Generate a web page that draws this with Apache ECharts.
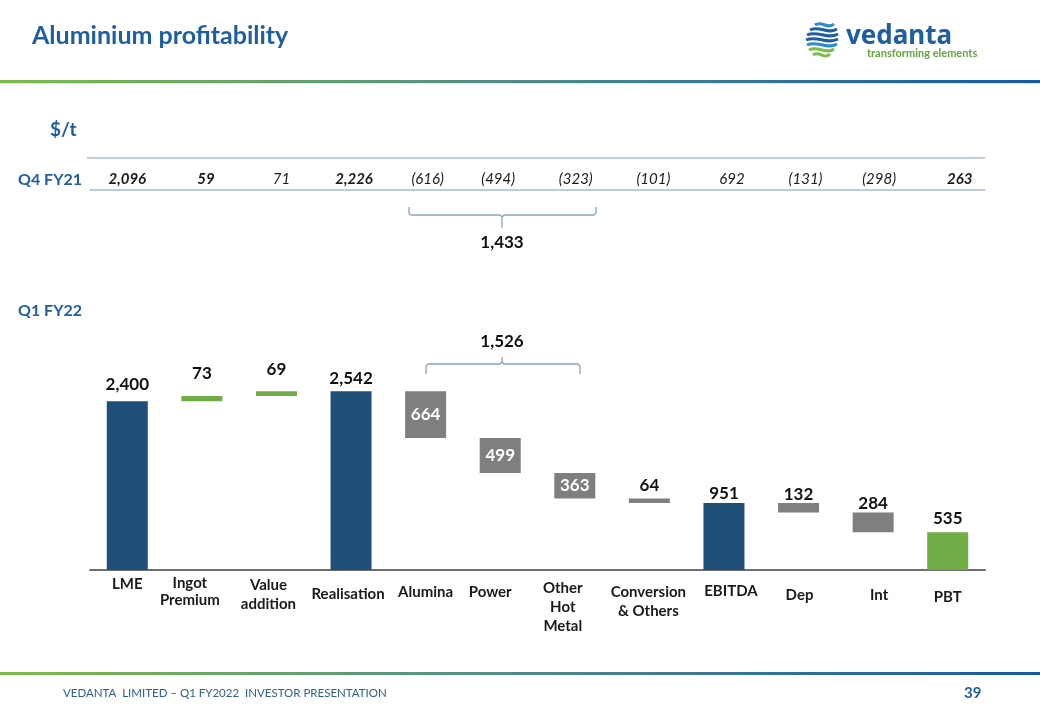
<!DOCTYPE html>
<html>
<head>
<meta charset="utf-8">
<script src="https://cdn.jsdelivr.net/npm/echarts@6/dist/echarts.min.js"></script>
<style>
html,body{margin:0;padding:0;background:#fff;}
#chart{width:1040px;height:720px;}
</style>
</head>
<body>
<div id="chart"></div>
<script>
// ---- data ----
const categories = ['LME','Ingot\nPremium','Value\naddition','Realisation','Alumina','Power','Other\nHot\nMetal','Conversion\n& Others','EBITDA','Dep','Int','PBT'];
const q1Values = [2400, 73, 69, 2542, 664, 499, 363, 64, 951, 132, 284, 535];
const barKind = ['total','up','up','total','down','down','down','down','total','down','down','result'];
const q4Labels = ['2,096','59','71','2,226','(616)','(494)','(323)','(101)','692','(131)','(298)','263'];
const q4Bold = [true, true, false, true, false, false, false, false, false, false, false, true];
const q4CostSum = '1,433';
const q1CostSum = '1,526';

// ---- styles ----
const NAVY = '#1F4E79', GREEN = '#70AD47', GRAY = '#7F7F7F', BLUE = '#1F5FA0';
const FONT = 'Lato, "Open Sans", sans-serif';
const labelGap = [8, 14, 13, 4, 0, 0, 0, 5, 1, 0, 0, 5];
const catPad = [0, 0, 1, 10, 8, 8, 4, 8, 7, 11, 11, 13];
const catLH = [18, 17, 19, 18, 18, 18, 19, 19, 18, 18, 18, 18];
const catShift = [0, -12, -8, -3, 0, -10, -12, -1, 7, 1, 6, 0];
const q4Shift = [0, 4, 5, 3, 2, -2, 1, 4, 8, 7, 6, 12];
const hpad = dx => dx >= 0 ? [0, 2 * dx] : [-2 * dx, 0]; // [right, left]

// ---- waterfall computation ----
const baseData = [], barData = [];
let running = 0;
q1Values.forEach((v, i) => {
  const k = barKind[i];
  let base;
  if (k === 'total' || k === 'result') { base = 0; running = v; }
  else if (k === 'up') { base = running; running += v; }
  else { running -= v; base = running; }
  baseData.push(base);
  const color = k === 'total' ? NAVY : (k === 'down' ? GRAY : GREEN);
  const inside = (k === 'down' && v > 300);
  barData.push({
    value: v,
    itemStyle: { color: color },
    label: inside ? { position: 'inside', color: '#fff' } : { position: 'top', distance: labelGap[i], color: '#111' }
  });
});

const fmt = n => n.toLocaleString('en-US');

const chart = echarts.init(document.getElementById('chart'), null, { renderer: 'canvas' });

const grad = () => new echarts.graphic.LinearGradient(0, 0, 1, 0, [
  { offset: 0, color: '#7DBB4A' }, { offset: 0.5, color: '#4E8C8A' }, { offset: 1, color: '#1659A3' }]);

function wave(x1, y, x2, color) {
  const w = x2 - x1;
  return { type: 'bezierCurve',
    shape: { x1: x1, y1: y, x2: x2, y2: y - 1, cpx1: x1 + w * 0.35, cpy1: y - 5, cpx2: x1 + w * 0.65, cpy2: y + 5 },
    style: { stroke: color, lineWidth: 3, fill: null } };
}

const braceStyle = { stroke: '#8DA4BC', lineWidth: 1.3, fill: null };

const option = {
  backgroundColor: '#fff',
  animation: false,
  grid: { left: 90, right: 55, top: 359, bottom: 150 },
  xAxis: [
    {
      type: 'category',
      data: categories.map((c, i) => {
        const h = hpad(catShift[i]);
        return { value: c, textStyle: { padding: [catPad[i], h[0], 0, h[1]], lineHeight: catLH[i] } };
      }),
      axisLine: { lineStyle: { color: '#6E6E6E', width: 2 } },
      axisTick: { show: false },
      axisLabel: { margin: 5, fontFamily: FONT, fontWeight: 'bold', fontSize: 15, color: '#1a1a1a', interval: 0 }
    },
    {
      type: 'category',
      position: 'top',
      offset: 169,
      data: q4Labels.map((t, i) => {
        const h = hpad(q4Shift[i]);
        return { value: t, textStyle: { fontWeight: q4Bold[i] ? 'bold' : 'normal', padding: [0, h[0], 0, h[1]] } };
      }),
      axisLine: { lineStyle: { color: '#A8BCD2', width: 1.5 } },
      axisTick: { show: false },
      axisLabel: { margin: 3, fontFamily: FONT, fontStyle: 'italic', fontSize: 15, color: '#1a1a1a', interval: 0 }
    }
  ],
  yAxis: { type: 'value', min: 0, max: 3000, show: false },
  series: [
    {
      type: 'bar', stack: 'wf', barWidth: 41, xAxisIndex: 0,
      itemStyle: { color: 'transparent' },
      emphasis: { disabled: true },
      data: baseData
    },
    {
      type: 'bar', stack: 'wf', barWidth: 41, xAxisIndex: 0,
      label: {
        show: true, fontFamily: FONT, fontWeight: 'bold', fontSize: 17,
        formatter: p => fmt(p.value)
      },
      data: barData
    }
  ],
  graphic: [
    // header
    { type: 'text', x: 32, y: 36, style: { text: 'Aluminium profitability', fontFamily: FONT, fontWeight: 'bold', fontSize: 25, fill: BLUE, verticalAlign: 'middle' } },
    { type: 'rect', shape: { x: 0, y: 80, width: 1040, height: 3 }, style: { fill: grad() } },
    { type: 'rect', shape: { x: 0, y: 83, width: 1040, height: 1 }, style: { fill: '#D6E8F2' } },
    // logo
    wave(815, 25, 834, '#2E8BC9'),
    wave(810, 30, 837, '#1F5FA0'),
    wave(807, 35, 838, '#1F5FA0'),
    wave(806, 40, 838, '#1F5FA0'),
    wave(807, 45, 837, '#2E8BC9'),
    wave(809, 50, 834, '#7DBB4A'),
    wave(813, 55, 830, '#7DBB4A'),
    { type: 'text', x: 846, y: 37, style: { text: 'vedanta', fontFamily: '"Noto Sans", sans-serif', fontWeight: 'bold', fontSize: 26, fill: BLUE, verticalAlign: 'middle' } },
    { type: 'text', x: 867, y: 53, style: { text: 'transforming elements', fontFamily: FONT, fontWeight: 'bold', fontSize: 11, fill: '#5FA83A', verticalAlign: 'middle' } },
    // section labels
    { type: 'text', x: 50, y: 130, style: { text: '$/t', fontFamily: FONT, fontWeight: 'bold', fontSize: 19, fill: BLUE, verticalAlign: 'middle' } },
    { type: 'text', x: 18, y: 180, style: { text: 'Q4 FY21', fontFamily: FONT, fontWeight: 'bold', fontSize: 16, fill: BLUE, verticalAlign: 'middle' } },
    { type: 'text', x: 18, y: 311, style: { text: 'Q1 FY22', fontFamily: FONT, fontWeight: 'bold', fontSize: 16, fill: BLUE, verticalAlign: 'middle' } },
    { type: 'line', shape: { x1: 87, y1: 158, x2: 985, y2: 158 }, style: { stroke: '#A8BCD2', lineWidth: 1.5 } },
    // Q4 brace
    { type: 'polyline', shape: { points: [[409, 207], [409, 213], [411, 215], [500, 215], [502, 217], [502, 228]] }, style: braceStyle },
    { type: 'polyline', shape: { points: [[502, 217], [504, 215], [594, 215], [596, 213], [596, 207]] }, style: braceStyle },
    { type: 'text', x: 502, y: 243, style: { text: q4CostSum, fontFamily: FONT, fontWeight: 'bold', fontSize: 17, fill: '#111', align: 'center', verticalAlign: 'middle' } },
    // Q1 brace
    { type: 'polyline', shape: { points: [[426, 374], [426, 366], [428, 364], [500, 364], [502, 362], [502, 357]] }, style: braceStyle },
    { type: 'polyline', shape: { points: [[502, 362], [504, 364], [578, 364], [580, 366], [580, 374]] }, style: braceStyle },
    { type: 'text', x: 502, y: 342, style: { text: q1CostSum, fontFamily: FONT, fontWeight: 'bold', fontSize: 17, fill: '#111', align: 'center', verticalAlign: 'middle' } },
    // footer
    { type: 'rect', shape: { x: 0, y: 672, width: 1040, height: 3 }, style: { fill: grad() } },
    { type: 'text', x: 63, y: 693, style: { text: 'VEDANTA  LIMITED – Q1 FY2022  INVESTOR PRESENTATION', fontFamily: FONT, fontSize: 11.5, fill: '#2F5F8A', verticalAlign: 'middle' } },
    { type: 'text', x: 964, y: 693, style: { text: '39', fontFamily: FONT, fontWeight: 'bold', fontSize: 15, fill: BLUE, verticalAlign: 'middle' } }
  ]
};
chart.setOption(option);
</script>
</body>
</html>
